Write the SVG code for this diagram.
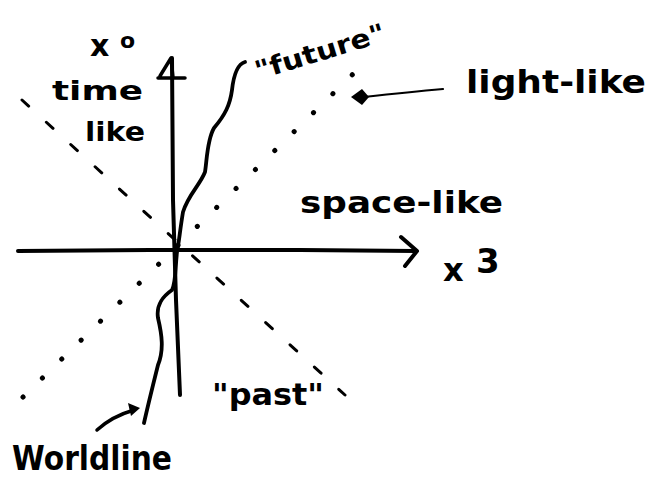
<svg xmlns="http://www.w3.org/2000/svg" width="653" height="477" viewBox="0 0 653 477">
<style>
.ink{fill:none;stroke:#000;stroke-linecap:round;stroke-linejoin:round}
.ax{stroke-width:4}
.wl{stroke-width:3.8}
.dash{stroke-width:3;stroke-dasharray:9 24}
.dot{stroke-width:5;stroke-dasharray:0.1 27}
.t{font-family:"DejaVu Sans","Liberation Sans",sans-serif;fill:#000;font-weight:bold}
</style>
<rect width="653" height="477" fill="#fff"/>
<g id="connectors">
<g id="x0-axis">
<path class="ink ax" d="M172 58 L173 200 L176 300 L180 395"/>
<path class="ink" stroke-width="3.5" d="M160 76 L171 58 L173 78 M158 78 H185"/>
</g>
<g id="x3-axis">
<path class="ink ax" d="M18 251 L150 250 L300 250 L416 251"/>
<path class="ink ax" d="M401 237 L417 251 L405 266"/>
</g>
<g id="timelike-cone">
<path class="ink dash" d="M22 100 L345 395"/>
</g>
<g id="lightlike-cone">
<path class="ink dot" d="M23 397 L355 72"/>
</g>
<g id="worldline">
<path class="ink wl" d="M245 62 C238 64 234 72 232 90 C230 105 225 115 214 128 C207 140 207 160 205 172 C200 185 188 195 183 212 C180 230 179 242 177 252 C175 270 176 282 172 290 C162 297 156 305 158 318 C162 335 164 350 158 365 C153 385 148 405 144 423"/>
</g>
<g id="lightlike-arrow">
<path class="ink" stroke-width="2.2" d="M443 89 C420 91 400 93 364 97"/>
<path d="M351 97 L362 89 L369 97 L362 105 Z" fill="#000"/>
</g>
<g id="worldline-arrow">
<path class="ink" stroke-width="3.5" d="M97 430 C108 420 120 414 134 410"/>
<path d="M140 408 L128 403 L131 416 Z" fill="#000"/>
</g>
</g>
<g id="label-x0">
<text class="t" x="90" y="56" font-size="30">x</text>
<text class="t" x="120" y="48" font-size="22">o</text>
</g>
<g id="label-timelike">
<text class="t" x="52" y="100" font-size="26" textLength="91" lengthAdjust="spacingAndGlyphs">time</text>
<text class="t" x="85" y="141" font-size="26" textLength="60" lengthAdjust="spacingAndGlyphs">like</text>
</g>
<g id="label-future">
<text class="t" x="258" y="80" font-size="26" transform="rotate(-17 258 80)" textLength="135" lengthAdjust="spacingAndGlyphs">"future"</text>
</g>
<g id="label-lightlike">
<text class="t" x="466" y="93" font-size="32" textLength="180" lengthAdjust="spacingAndGlyphs">light-like</text>
</g>
<g id="label-spacelike">
<text class="t" x="300" y="213" font-size="30" textLength="203" lengthAdjust="spacingAndGlyphs">space-like</text>
</g>
<g id="label-x3">
<text class="t" x="443" y="281" font-size="32">x</text>
<text class="t" x="476" y="273" font-size="34">3</text>
</g>
<g id="label-past">
<text class="t" x="212" y="405" font-size="30" textLength="112" lengthAdjust="spacingAndGlyphs">"past"</text>
</g>
<g id="label-worldline">
<text class="t" x="12" y="470" font-size="34" textLength="160" lengthAdjust="spacingAndGlyphs">Worldline</text>
</g>
</svg>
